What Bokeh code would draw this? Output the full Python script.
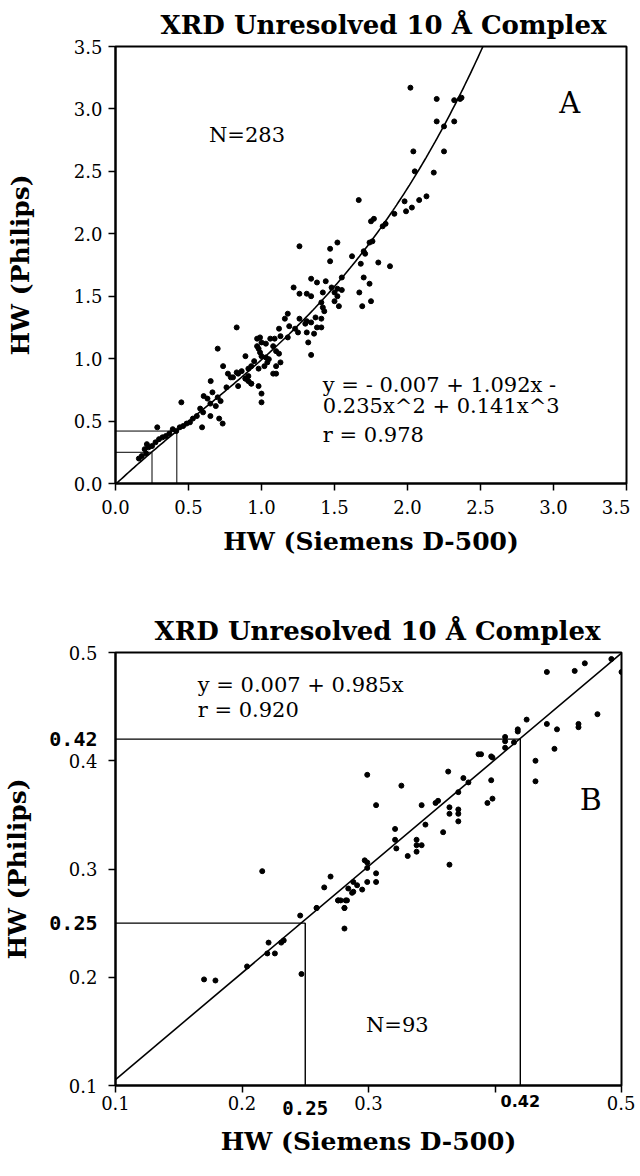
import numpy as np
from bokeh.plotting import figure
from bokeh.models import FixedTicker, Label, Range1d, LinearAxis
from bokeh.layouts import column
from bokeh.embed import file_html
from bokeh.resources import INLINE

TITLE = "XRD Unresolved 10 Å Complex"
X_LABEL = "HW (Siemens D-500)"
Y_LABEL = "HW (Philips)"

# ---------------- Panel A data ----------------
a_x = [2.02, 2.20, 2.32, 2.36, 2.37, 2.20, 2.25, 2.32, 2.04, 2.25, 2.05, 2.18,
       1.666, 1.98, 2.03, 2.08, 2.13, 1.99, 1.91, 1.85, 1.83, 1.77, 1.75, 1.76, 1.74,
       1.70, 1.71, 1.68, 1.80, 1.88, 1.62, 1.52, 1.47, 1.47, 1.26, 1.34, 1.38, 1.44,
       1.70, 1.74, 1.55, 1.48, 1.52, 1.55, 1.50, 1.42, 1.26, 1.31, 1.34, 1.22, 1.67,
       1.75, 1.69, 1.52, 1.53, 1.50, 1.41, 1.42, 1.43, 1.41, 1.37, 1.31, 1.34, 1.30,
       1.26, 1.18, 1.16, 1.19, 1.23, 1.25, 1.31, 1.36, 1.38, 1.41, 1.32, 1.34, 1.12,
       1.09, 1.06, 1.13, 1.18, 0.99, 0.97, 1.00, 1.03, 1.08, 1.10, 1.12, 1.13, 1.10,
       1.08, 0.97, 0.98, 0.99, 1.00, 1.03, 1.05, 1.04, 1.02, 0.98, 0.95, 0.93, 0.91,
       0.89, 0.83, 0.70, 0.737, 0.77, 0.79, 0.83, 0.864, 0.89, 0.91, 0.93, 0.652, 0.76,
       0.84,
       0.805, 0.84, 0.89, 0.91, 0.93, 0.98, 1.00, 1.00, 1.10, 0.604, 0.63, 0.664, 0.70,
       0.72, 0.65, 0.687, 0.58, 0.60, 0.557, 0.53, 0.51, 0.487, 0.463, 0.44, 0.451,
       0.593, 0.65, 0.71, 0.734, 0.392, 0.416, 0.369, 0.345, 0.322, 0.298, 0.274, 0.25,
       0.227, 0.20, 0.215, 0.18, 0.286, 0.16, 0.21]
a_y = [3.17, 3.08, 3.07, 3.08, 3.09, 2.90, 2.86, 2.90, 2.66, 2.66, 2.50, 2.49,
       2.27, 2.26, 2.21, 2.27, 2.30, 2.18, 2.16, 2.08, 2.06, 2.12, 2.10, 1.94, 1.93,
       1.86, 1.84, 1.76, 1.77, 1.74, 1.82, 1.93, 1.88, 1.78, 1.90, 1.64, 1.61, 1.62,
       1.65, 1.60, 1.65, 1.57, 1.56, 1.55, 1.53, 1.53, 1.52, 1.52, 1.50, 1.57, 1.53,
       1.46, 1.42, 1.50, 1.42, 1.46, 1.45, 1.41, 1.38, 1.32, 1.33, 1.30, 1.29, 1.28,
       1.32, 1.36, 1.32, 1.26, 1.24, 1.21, 1.21, 1.20, 1.25, 1.25, 1.13, 1.03, 1.24,
       1.16, 1.16, 1.18, 1.17, 1.17, 1.16, 1.13, 1.12, 1.10, 1.06, 1.04, 0.97, 0.94,
       0.88, 1.10, 1.08, 1.05, 1.02, 1.01, 0.996, 0.97, 0.94, 0.92, 0.98, 0.94, 0.92,
       1.02, 1.25, 1.08, 0.94, 0.88, 0.85, 0.89, 0.90, 0.84, 0.82, 0.80, 0.82, 0.77,
       0.78,
       0.85, 0.88, 0.84, 0.86, 0.80, 0.78, 0.72, 0.65, 0.88, 0.70, 0.68, 0.73, 0.69,
       0.66, 0.64, 0.62, 0.60, 0.57, 0.54, 0.52, 0.49, 0.48, 0.46, 0.45, 0.65,
       0.45, 0.54, 0.52, 0.48, 0.435, 0.42, 0.40, 0.38, 0.37, 0.355, 0.33, 0.30,
       0.29, 0.275, 0.315, 0.22, 0.45, 0.20, 0.24]
a_ticks = [0.0, 0.5, 1.0, 1.5, 2.0, 2.5, 3.0, 3.5]
a_fit_coef = [-0.007, 1.092, -0.235, 0.141]   # y = c0 + c1 x + c2 x^2 + c3 x^3
a_ref_levels = [0.25, 0.42]

# ---------------- Panel B data ----------------
b_x = [0.389, 0.398, 0.432, 0.432, 0.299, 0.326, 0.363, 0.375, 0.379, 0.397, 0.394,
       0.398, 0.371, 0.355, 0.353, 0.342, 0.364, 0.364, 0.371, 0.371, 0.371, 0.306,
       0.345, 0.359, 0.321, 0.321, 0.322, 0.338, 0.338, 0.342, 0.338, 0.331, 0.364,
       0.297, 0.299, 0.299, 0.306, 0.306, 0.299, 0.288, 0.291, 0.284, 0.288, 0.295,
       0.270, 0.265, 0.276, 0.278, 0.282, 0.281, 0.259, 0.216,
       0.441, 0.463, 0.471, 0.492, 0.500, 0.481, 0.466, 0.466, 0.449, 0.441, 0.425,
       0.418, 0.418, 0.408, 0.408, 0.415, 0.408, 0.447, 0.387, 0.397,
       0.276, 0.283, 0.281, 0.281, 0.287, 0.259, 0.246, 0.247, 0.233, 0.231, 0.221,
       0.220, 0.226, 0.204, 0.170, 0.179]
b_y = [0.406, 0.403, 0.400, 0.381, 0.387, 0.377, 0.390, 0.384, 0.380, 0.382, 0.361,
       0.365, 0.371, 0.363, 0.361, 0.359, 0.357, 0.351, 0.355, 0.351, 0.344, 0.359,
       0.341, 0.334, 0.337, 0.327, 0.319, 0.327, 0.322, 0.322, 0.316, 0.312, 0.304,
       0.308, 0.306, 0.301, 0.296, 0.288, 0.288, 0.288, 0.285, 0.282, 0.279, 0.281,
       0.293, 0.283, 0.271, 0.271, 0.271, 0.264, 0.264, 0.298,
       0.482, 0.483, 0.490, 0.494, 0.482, 0.443, 0.434, 0.431, 0.429, 0.434, 0.438,
       0.429, 0.427, 0.422, 0.418, 0.417, 0.412, 0.411, 0.406, 0.404,
       0.271, 0.271, 0.264, 0.245, 0.278, 0.264, 0.257, 0.203, 0.234, 0.232, 0.232,
       0.222, 0.222, 0.210, 0.198, 0.197]
b_ticks = [0.1, 0.2, 0.3, 0.4, 0.5]
b_fit_coef = [0.007, 0.985]   # y = c0 + c1 x
b_ref_levels = [0.25, 0.42]

SERIF = "DejaVu Serif"
MONO = "DejaVu Sans Mono"
SANS = "DejaVu Sans"


def base_axis_style(ax, ticks):
    ax.ticker = FixedTicker(ticks=ticks)
    ax.axis_line_color = "black"
    ax.axis_line_width = 2
    ax.major_tick_line_color = "black"
    ax.major_tick_line_width = 1.5
    ax.major_tick_out = 7
    ax.major_tick_in = 0
    ax.minor_tick_line_color = None
    ax.major_label_text_font = SERIF
    ax.major_label_text_font_size = "18px"
    ax.major_label_text_color = "black"
    ax.axis_label_text_font = SERIF
    ax.axis_label_text_font_style = "bold"
    ax.axis_label_text_font_size = "25px"
    ax.axis_label_text_color = "black"


def style(p, ticks, title_standoff, title_offset):
    p.background_fill_color = "white"
    p.border_fill_color = "white"
    p.outline_line_color = "black"
    p.outline_line_width = 2
    p.xgrid.visible = False
    p.ygrid.visible = False
    base_axis_style(p.xaxis[0], ticks)
    base_axis_style(p.yaxis[0], ticks)
    p.title.text = TITLE
    p.title.align = "left"
    p.title.offset = title_offset
    p.title.text_font = SERIF
    p.title.text_font_style = "bold"
    p.title.text_font_size = "26px"
    p.title.text_color = "black"
    p.title.standoff = title_standoff


def text_label(p, txt, xx, yy, size):
    p.add_layout(Label(x=xx, y=yy, text=txt, text_font=SERIF, text_font_size=size,
                       text_baseline="middle", text_align="left", text_color="black"))


def ref_axis(ticks, font, size, standoff, label=None, label_standoff=0):
    ax = LinearAxis(ticker=FixedTicker(ticks=ticks),
                    major_label_overrides={t: f"{t:.2f}" for t in ticks},
                    axis_line_color=None, major_tick_line_color=None,
                    minor_tick_line_color=None, major_tick_out=0, major_tick_in=0,
                    major_label_standoff=standoff, major_label_text_font=font,
                    major_label_text_font_style="bold", major_label_text_font_size=size,
                    major_label_text_color="black")
    if label:
        ax.axis_label = label
        ax.axis_label_standoff = label_standoff
        ax.axis_label_text_font = SERIF
        ax.axis_label_text_font_style = "bold"
        ax.axis_label_text_font_size = "25px"
        ax.axis_label_text_color = "black"
    return ax


# ---------------- Panel A ----------------
pA = figure(frame_width=511, frame_height=437,
            x_range=Range1d(0, 3.5), y_range=Range1d(0, 3.5),
            output_backend="svg", toolbar_location=None,
            min_border_left=107, min_border_right=6,
            min_border_top=46, min_border_bottom=89)
style(pA, a_ticks, 14, 45)
pA.xaxis[0].axis_label = X_LABEL
pA.yaxis[0].axis_label = Y_LABEL
pA.xaxis[0].major_label_standoff = 9
pA.xaxis[0].axis_label_standoff = 10
pA.yaxis[0].major_label_standoff = 6
pA.yaxis[0].axis_label_standoff = 36
pA.xaxis[0].major_label_overrides = {t: f"{t:.1f}" for t in a_ticks}
pA.yaxis[0].major_label_overrides = {t: f"{t:.1f}" for t in a_ticks}

for L in a_ref_levels:
    pA.line([0, L, L], [L, L, 0], line_color="black", line_width=1)

xa = np.linspace(0, 2.52, 200)
ya = sum(c * xa ** i for i, c in enumerate(a_fit_coef))
pA.line(xa, ya, line_color="black", line_width=1.6)
pA.scatter(a_x, a_y, size=5, marker="circle", fill_color="black", line_color="black")

text_label(pA, "y =  - 0.007 + 1.092x -", 1.42, 0.79, "21px")
text_label(pA, "0.235x^2 + 0.141x^3", 1.42, 0.62, "21px")
text_label(pA, "r = 0.978", 1.42, 0.39, "21px")
text_label(pA, "N=283", 0.64, 2.79, "21px")
text_label(pA, "A", 3.04, 3.05, "29px")

# ---------------- Panel B ----------------
pB = figure(frame_width=506, frame_height=433,
            x_range=Range1d(0.1, 0.5), y_range=Range1d(0.1, 0.5),
            output_backend="svg", toolbar_location=None,
            min_border_left=104, min_border_right=14,
            min_border_top=80, min_border_bottom=77)
style(pB, b_ticks, 13, 39)
pB.xaxis[0].major_label_standoff = 3
pB.yaxis[0].major_label_standoff = 11
pB.xaxis[0].major_label_overrides = {t: ("" if t == 0.4 else f"{t:.1f}") for t in b_ticks}
pB.yaxis[0].major_label_overrides = {t: f"{t:.1f}" for t in b_ticks}

# secondary axes carrying the bold 0.25 / 0.42 reference labels and the axis titles
pB.add_layout(ref_axis(b_ref_levels, MONO, "20px", -32, Y_LABEL, 14), "left")
pB.add_layout(ref_axis([b_ref_levels[1]], SANS, "16px", -18), "below")
pB.add_layout(ref_axis([b_ref_levels[0]], MONO, "19px", -12, X_LABEL, 9), "below")

for L in b_ref_levels:
    pB.line([0.1, L, L], [L, L, 0.1], line_color="black", line_width=1.4)

xb = np.array([0.1, 0.5])
yb = b_fit_coef[0] + b_fit_coef[1] * xb
pB.line(xb, yb, line_color="black", line_width=1.6)
pB.scatter(b_x, b_y, size=5, marker="circle", fill_color="black", line_color="black")

text_label(pB, "y = 0.007 + 0.985x", 0.165, 0.470, "21px")
text_label(pB, "r = 0.920", 0.165, 0.447, "21px")
text_label(pB, "N=93", 0.298, 0.156, "21px")
text_label(pB, "B", 0.467, 0.364, "30px")

layout = column(pA, pB, spacing=0)
open("out.html", "w").write(file_html(layout, INLINE))
